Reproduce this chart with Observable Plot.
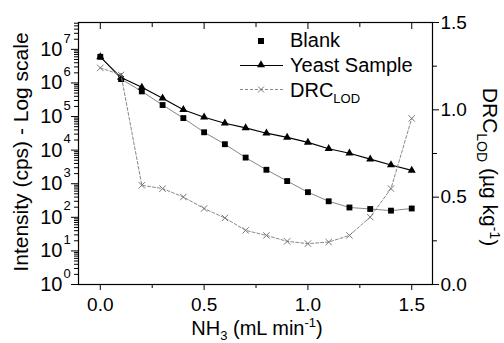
<!DOCTYPE html>
<html>
<head>
<meta charset="utf-8">
<script src="https://cdn.jsdelivr.net/npm/d3@7"></script>
<script src="https://cdn.jsdelivr.net/npm/@observablehq/plot@0.6"></script>
<style>
  body { margin: 0; background: #fff; }
  #wrap { position: relative; width: 504px; height: 343px; }
  #wrap svg { position: absolute; left: 0; top: 0; }
</style>
</head>
<body>
<div id="wrap"></div>
<script>
// ---- data ----
const nh3 = [0, 0.1, 0.2, 0.3, 0.4, 0.5, 0.6, 0.7, 0.8, 0.9, 1.0, 1.1, 1.2, 1.3, 1.4, 1.5];
const blank = [6.0e6, 1.3e6, 5.6e5, 2.2e5, 9.0e4, 3.4e4, 1.5e4, 6.0e3, 2.6e3, 1.2e3, 560, 300, 196, 177, 158, 183];
const yeast = [6.0e6, 1.45e6, 7.4e5, 3.5e5, 1.6e5, 9.5e4, 6.3e4, 4.6e4, 3.2e4, 2.4e4, 1.7e4, 1.1e4, 8.1e3, 5.4e3, 3.6e3, 2.5e3];
const drc = [1.24, 1.20, 0.568, 0.549, 0.501, 0.435, 0.381, 0.31, 0.281, 0.247, 0.234, 0.243, 0.281, 0.386, 0.549, 0.951];

const xMajor = [0, 0.5, 1.0, 1.5];
const xMinor = [0.25, 0.75, 1.25];
const yExponents = [0, 1, 2, 3, 4, 5, 6, 7];
const rightMajor = [0, 0.5, 1.0, 1.5];
const rightMinor = [0.25, 0.75, 1.25];
const legendLabels = ["Blank", "Yeast Sample", "DRC"];

const yTop = 6.3e7;
const yMinor = [];
for (const e of yExponents) for (let m = 2; m <= 9; m++) { const v = m * 10 ** e; if (v < yTop) yMinor.push(v); }

const rows = nh3.map((x, i) => ({x, blank: blank[i], yeast: yeast[i], drc: drc[i]}));

const font = "Liberation Sans, Arial, Helvetica, sans-serif";
const common = {
  width: 504, height: 343,
  marginLeft: 78, marginRight: 72, marginTop: 22, marginBottom: 59,
  style: {fontFamily: font, background: "transparent", color: "#000", overflow: "visible"}
};
const none = () => "";

const p1 = Plot.plot({
  ...common,
  x: {domain: [-0.105, 1.6]},
  y: {type: "log", domain: [1, yTop]},
  marks: [
    Plot.axisX({ticks: xMajor, tickSize: 6, tickPadding: 7, tickFormat: d3.format(".1f"), fontSize: 19, label: null}),
    Plot.axisX({ticks: xMinor, tickSize: 4, tickFormat: none, label: null}),
    Plot.axisX({anchor: "top", ticks: xMajor, tickSize: -6, tickFormat: none, label: null}),
    Plot.axisX({anchor: "top", ticks: xMinor, tickSize: -4, tickFormat: none, label: null}),
    Plot.axisY({ticks: yExponents.map(e => 10 ** e), tickSize: 7, tickFormat: none, label: null}),
    Plot.axisY({ticks: yMinor, tickSize: 4, tickFormat: none, label: null}),
    Plot.text(yExponents, {y: e => 10 ** e, frameAnchor: "left", dx: -16, text: () => "10", textAnchor: "end", fontSize: 20, lineAnchor: "middle"}),
    Plot.text(yExponents, {y: e => 10 ** e, frameAnchor: "left", dx: -15, dy: -11, text: e => String(e), textAnchor: "start", fontSize: 13, lineAnchor: "middle"}),
    Plot.line(rows, {x: "x", y: "blank", stroke: "#777", strokeWidth: 0.9}),
    Plot.line(rows, {x: "x", y: "yeast", stroke: "#000", strokeWidth: 1.1}),
    Plot.dot(rows, {x: "x", y: "blank", symbol: "square", r: 3.3, fill: "#000", stroke: "none"}),
    Plot.dot(rows, {x: "x", y: "yeast", symbol: "triangle", r: 3, fill: "#000", stroke: "none"}),
    Plot.frame({stroke: "#000", strokeWidth: 1.2})
  ]
});

const p2 = Plot.plot({
  ...common,
  x: {domain: [-0.105, 1.6], axis: null},
  y: {domain: [0, 1.5]},
  marks: [
    Plot.axisY({anchor: "right", ticks: rightMajor, tickSize: 6, tickPadding: 2, tickFormat: d3.format(".1f"), fontSize: 19, label: null}),
    Plot.axisY({anchor: "right", ticks: rightMinor, tickSize: 4, tickFormat: none, label: null}),
    Plot.line(rows, {x: "x", y: "drc", stroke: "#888", strokeWidth: 1, strokeDasharray: "3,2"}),
    Plot.dot(rows, {x: "x", y: "drc", symbol: "times", r: 3, stroke: "#777", strokeWidth: 1})
  ]
});

const wrap = document.getElementById("wrap");
wrap.appendChild(p1);
wrap.appendChild(p2);

const svg = d3.select(p2);
const g = svg.append("g").attr("font-family", font).attr("fill", "#000");

// axis titles
const yl = g.append("text").attr("transform", "translate(28,152) rotate(-90)").attr("text-anchor", "middle").attr("font-size", 21);
yl.text("Intensity (cps) - Log scale");

const xl = g.append("text").attr("x", 257).attr("y", 335).attr("text-anchor", "middle").attr("font-size", 20);
xl.append("tspan").text("NH");
xl.append("tspan").attr("font-size", 13).attr("dy", 5).text("3");
xl.append("tspan").attr("dy", -5).text(" (mL min");
xl.append("tspan").attr("font-size", 13).attr("dy", -8).text("-1");
xl.append("tspan").attr("dy", 8).text(")");

const rl = g.append("text").attr("transform", "translate(483,167) rotate(90)").attr("text-anchor", "middle").attr("font-size", 21);
rl.append("tspan").text("DRC");
rl.append("tspan").attr("font-size", 14).attr("dy", 6).text("LOD");
rl.append("tspan").attr("dy", -6).text(" (µg kg");
rl.append("tspan").attr("font-size", 14).attr("dy", -7).text("-1");
rl.append("tspan").attr("dy", 7).text(")");

// legend
const lg = g.append("g").attr("text-anchor", "start");
lg.append("rect").attr("x", 258).attr("y", 38).attr("width", 6).attr("height", 6).attr("fill", "#000");
lg.append("text").attr("x", 290).attr("y", 47).attr("font-size", 20).text(legendLabels[0]);
lg.append("line").attr("x1", 240).attr("x2", 283).attr("y1", 65.5).attr("y2", 65.5).attr("stroke", "#000").attr("stroke-width", 1.1);
lg.append("path").attr("d", d3.symbol(d3.symbolTriangle, 28)()).attr("transform", "translate(261,65)").attr("fill", "#000");
lg.append("text").attr("x", 290).attr("y", 72).attr("font-size", 20).text(legendLabels[1]);
lg.append("line").attr("x1", 240).attr("x2", 283).attr("y1", 89.5).attr("y2", 89.5).attr("stroke", "#888").attr("stroke-dasharray", "3,2");
lg.append("path").attr("d", "M-3,-3L3,3M-3,3L3,-3").attr("transform", "translate(261,89.5)").attr("stroke", "#777").attr("fill", "none");
const dl = lg.append("text").attr("x", 290).attr("y", 97).attr("font-size", 20);
dl.append("tspan").text(legendLabels[2]);
dl.append("tspan").attr("font-size", 13).attr("dy", 6).text("LOD");
</script>
</body>
</html>
